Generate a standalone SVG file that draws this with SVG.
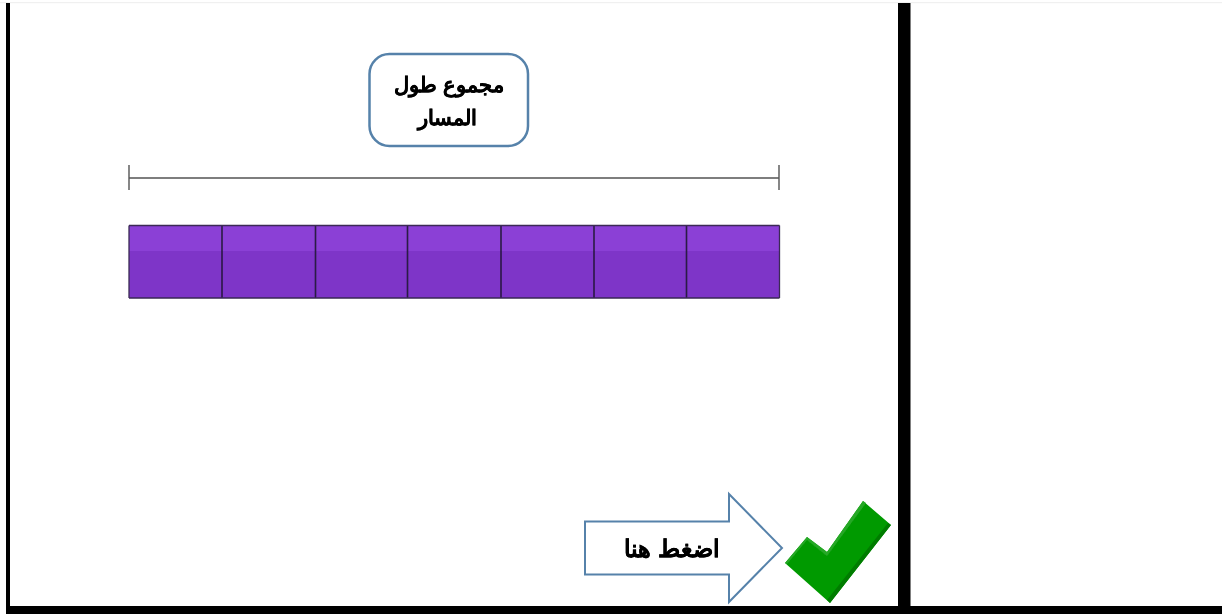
<svg xmlns="http://www.w3.org/2000/svg" width="1222" height="615" viewBox="0 0 1222 615">
<defs>
<style>
.frame{fill:#000}
.cell{fill:#7e34c8;stroke:none}
.shine{fill:#8b3fd6}
.div{stroke:#2a1a45;stroke-width:1.6;fill:none}
.blue{fill:#fff;stroke:#5682aa;stroke-width:2}
.dim{stroke:#555;stroke-width:1.4;fill:none}
text{font-family:"Liberation Sans","Noto Sans",sans-serif;font-weight:700;fill:#000;stroke:#000;stroke-width:.3;text-anchor:middle;direction:rtl}
</style>
<filter id="soft" x="-5%" y="-5%" width="110%" height="110%"><feGaussianBlur stdDeviation="0.45"/></filter>
</defs>
<rect width="1222" height="615" fill="#fff"/>
<rect x="0" y="2" width="1222" height="1.2" fill="#f0f0f0"/>
<g id="frame">
<rect class="frame" x="6" y="3" width="4" height="610"/>
<rect class="frame" x="898" y="3" width="12.500" height="610"/>
<rect class="frame" x="6" y="606" width="1216" height="8"/>
</g>
<g id="total-label" filter="url(#soft)">
<rect class="blue" x="369.500" y="54" width="158.500" height="92" rx="20" ry="20" style="stroke-width:2.500"/>
<text x="449" y="92" font-size="21">مجموع طول</text>
<text x="447" y="125" font-size="21">المسار</text>
</g>
<g id="connectors" filter="url(#soft)">
<path class="dim" d="M129 178H779M129 165V190M779 165V190"/>
</g>
<g id="bar" filter="url(#soft)">
<rect class="cell" x="129" y="225.500" width="650.500" height="72.500"/>
<rect class="shine" x="129" y="226" width="650.500" height="25"/>
<path class="div" d="M222 226V298M315.500 226V298M407.500 226V298M501 226V298M594 226V298M686.500 226V298"/>
<path d="M129 225.500H779.500M129 298H779.500M129 225.500V298M779.500 225.500V298" fill="none" stroke="#3a2a55" stroke-width="1.300"/>
</g>
<g id="click-arrow" filter="url(#soft)">
<path class="blue" d="M585 521.500H729V494L782 548L729 602V574.500H585Z"/>
<text x="672" y="557" font-size="24">اضغط هنا</text>
</g>
<g id="check" filter="url(#soft)">
<path d="M785 563L807 537L827 552L863 501L891 525L830 603Z" fill="#049a04"/>
<path d="M785 563L807 537L827 552L863 501L866 503L827 556L807 540L787 564Z" fill="#25a825"/>
<path d="M891 525L830 603L827 600L888 523Z" fill="#047c04"/>
</g>
</svg>
